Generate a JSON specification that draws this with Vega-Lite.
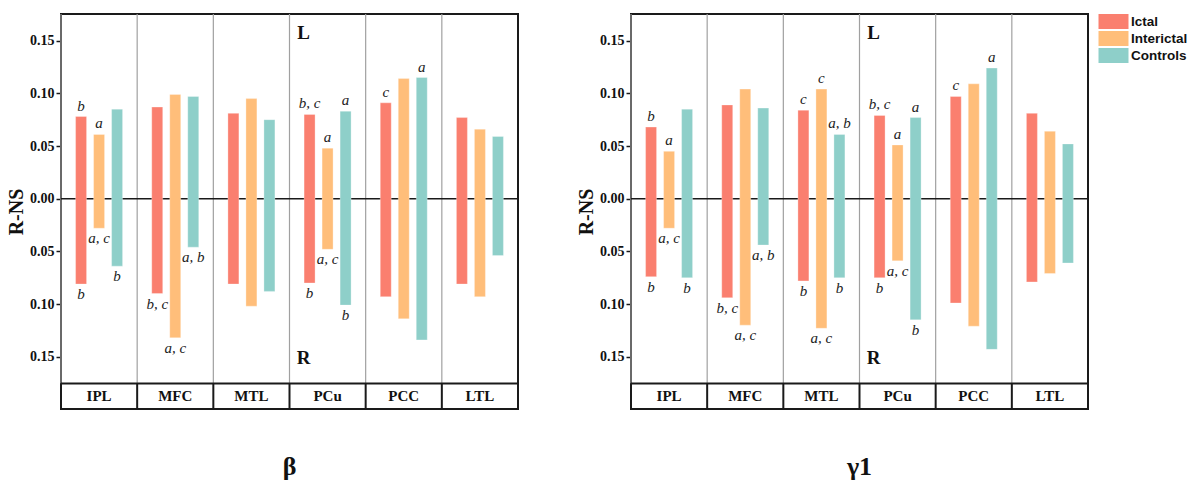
{
  "$schema": "https://vega.github.io/schema/vega-lite/v6.json",
  "padding": {"left": 5, "top": 12, "right": 0, "bottom": 4},
  "background": "white",
  "datasets": {
    "bars": [
      {"panel": "β", "region": "IPL", "group": "Ictal", "top": 0.078, "bottom": -0.081, "lt": "b", "lb": "b"},
      {"panel": "β", "region": "IPL", "group": "Interictal", "top": 0.061, "bottom": -0.028, "lt": "a", "lb": "a, c"},
      {"panel": "β", "region": "IPL", "group": "Controls", "top": 0.085, "bottom": -0.064, "lt": "", "lb": "b"},
      {"panel": "β", "region": "MFC", "group": "Ictal", "top": 0.087, "bottom": -0.090, "lt": "", "lb": "b, c"},
      {"panel": "β", "region": "MFC", "group": "Interictal", "top": 0.099, "bottom": -0.132, "lt": "", "lb": "a, c"},
      {"panel": "β", "region": "MFC", "group": "Controls", "top": 0.097, "bottom": -0.046, "lt": "", "lb": "a, b"},
      {"panel": "β", "region": "MTL", "group": "Ictal", "top": 0.081, "bottom": -0.081, "lt": "", "lb": ""},
      {"panel": "β", "region": "MTL", "group": "Interictal", "top": 0.095, "bottom": -0.102, "lt": "", "lb": ""},
      {"panel": "β", "region": "MTL", "group": "Controls", "top": 0.075, "bottom": -0.088, "lt": "", "lb": ""},
      {"panel": "β", "region": "PCu", "group": "Ictal", "top": 0.080, "bottom": -0.080, "lt": "b, c", "lb": "b"},
      {"panel": "β", "region": "PCu", "group": "Interictal", "top": 0.048, "bottom": -0.048, "lt": "a", "lb": "a, c"},
      {"panel": "β", "region": "PCu", "group": "Controls", "top": 0.083, "bottom": -0.101, "lt": "a", "lb": "b"},
      {"panel": "β", "region": "PCC", "group": "Ictal", "top": 0.091, "bottom": -0.093, "lt": "c", "lb": ""},
      {"panel": "β", "region": "PCC", "group": "Interictal", "top": 0.114, "bottom": -0.114, "lt": "", "lb": ""},
      {"panel": "β", "region": "PCC", "group": "Controls", "top": 0.115, "bottom": -0.134, "lt": "a", "lb": ""},
      {"panel": "β", "region": "LTL", "group": "Ictal", "top": 0.077, "bottom": -0.081, "lt": "", "lb": ""},
      {"panel": "β", "region": "LTL", "group": "Interictal", "top": 0.066, "bottom": -0.093, "lt": "", "lb": ""},
      {"panel": "β", "region": "LTL", "group": "Controls", "top": 0.059, "bottom": -0.054, "lt": "", "lb": ""},
      {"panel": "γ1", "region": "IPL", "group": "Ictal", "top": 0.068, "bottom": -0.074, "lt": "b", "lb": "b"},
      {"panel": "γ1", "region": "IPL", "group": "Interictal", "top": 0.045, "bottom": -0.028, "lt": "a", "lb": "a, c"},
      {"panel": "γ1", "region": "IPL", "group": "Controls", "top": 0.085, "bottom": -0.075, "lt": "", "lb": "b"},
      {"panel": "γ1", "region": "MFC", "group": "Ictal", "top": 0.089, "bottom": -0.094, "lt": "", "lb": "b, c"},
      {"panel": "γ1", "region": "MFC", "group": "Interictal", "top": 0.104, "bottom": -0.120, "lt": "", "lb": "a, c"},
      {"panel": "γ1", "region": "MFC", "group": "Controls", "top": 0.086, "bottom": -0.044, "lt": "", "lb": "a, b"},
      {"panel": "γ1", "region": "MTL", "group": "Ictal", "top": 0.084, "bottom": -0.078, "lt": "c", "lb": "b"},
      {"panel": "γ1", "region": "MTL", "group": "Interictal", "top": 0.104, "bottom": -0.123, "lt": "c", "lb": "a, c"},
      {"panel": "γ1", "region": "MTL", "group": "Controls", "top": 0.061, "bottom": -0.075, "lt": "a, b", "lb": "b"},
      {"panel": "γ1", "region": "PCu", "group": "Ictal", "top": 0.079, "bottom": -0.075, "lt": "b, c", "lb": "b"},
      {"panel": "γ1", "region": "PCu", "group": "Interictal", "top": 0.051, "bottom": -0.059, "lt": "a", "lb": "a, c"},
      {"panel": "γ1", "region": "PCu", "group": "Controls", "top": 0.077, "bottom": -0.115, "lt": "a", "lb": "b"},
      {"panel": "γ1", "region": "PCC", "group": "Ictal", "top": 0.097, "bottom": -0.099, "lt": "c", "lb": ""},
      {"panel": "γ1", "region": "PCC", "group": "Interictal", "top": 0.109, "bottom": -0.121, "lt": "", "lb": ""},
      {"panel": "γ1", "region": "PCC", "group": "Controls", "top": 0.124, "bottom": -0.143, "lt": "a", "lb": ""},
      {"panel": "γ1", "region": "LTL", "group": "Ictal", "top": 0.081, "bottom": -0.079, "lt": "", "lb": ""},
      {"panel": "γ1", "region": "LTL", "group": "Interictal", "top": 0.064, "bottom": -0.071, "lt": "", "lb": ""},
      {"panel": "γ1", "region": "LTL", "group": "Controls", "top": 0.052, "bottom": -0.061, "lt": "", "lb": ""}
    ],
    "regions": [
      {"region": "IPL"}, {"region": "MFC"}, {"region": "MTL"}, {"region": "PCu"}, {"region": "PCC"}, {"region": "LTL"}
    ],
    "one": [{}]
  },
  "hconcat": [
    {
      "width": 457,
      "height": 395,
      "title": {"text": "β", "orient": "bottom", "offset": 44},
      "layer": [
        {
          "data": {"name": "regions"},
          "mark": {"type": "rule", "color": "#a0a0a0", "strokeWidth": 1.2},
          "encoding": {
            "x": {"field": "region", "type": "nominal", "bandPosition": 0, "scale": {"domain": ["IPL", "MFC", "MTL", "PCu", "PCC", "LTL"], "paddingInner": 0, "paddingOuter": 0}, "axis": null},
            "y": {"datum": -0.1753, "type": "quantitative"},
            "y2": {"datum": 0.1753}
          }
        },
        {
          "data": {"name": "regions"},
          "mark": {"type": "rule", "color": "#1a1a1a", "strokeWidth": 2},
          "encoding": {
            "x": {"field": "region", "type": "nominal", "bandPosition": 0, "scale": {"domain": ["IPL", "MFC", "MTL", "PCu", "PCC", "LTL"], "paddingInner": 0, "paddingOuter": 0}, "axis": null},
            "y": {"datum": -0.1996, "type": "quantitative"},
            "y2": {"datum": -0.1753}
          }
        },
        {
          "data": {"name": "one"},
          "mark": {"type": "rule", "color": "#1a1a1a", "strokeWidth": 1.5},
          "encoding": {"y": {"datum": 0, "type": "quantitative"}}
        },
        {
          "data": {"name": "one"},
          "mark": {"type": "rule", "color": "#1a1a1a", "strokeWidth": 2},
          "encoding": {"y": {"datum": -0.1753, "type": "quantitative"}}
        },
        {
          "data": {"name": "bars"},
          "transform": [{"filter": "datum.panel === 'β'"}],
          "mark": {"type": "bar", "stroke": "white", "strokeOpacity": 0.5, "strokeWidth": 0.6},
          "encoding": {
            "x": {"field": "region", "type": "nominal", "scale": {"domain": ["IPL", "MFC", "MTL", "PCu", "PCC", "LTL"], "paddingInner": 0, "paddingOuter": 0}, "axis": null},
            "xOffset": {"field": "group", "type": "nominal", "scale": {"domain": ["Ictal", "Interictal", "Controls"], "paddingInner": 0.39, "paddingOuter": 0.81}},
            "y": {"field": "top", "type": "quantitative", "scale": {"domain": [-0.1996, 0.1753], "nice": false, "zero": false},
              "axis": {"values": [-0.15, -0.1, -0.05, 0, 0.05, 0.1, 0.15], "labelExpr": "format(abs(datum.value), '.2f')", "title": "R-NS", "grid": false}},
            "y2": {"field": "bottom"},
            "color": {"field": "group", "type": "nominal", "scale": {"domain": ["Ictal", "Interictal", "Controls"], "range": ["#FA7F6F", "#FFBE7A", "#8ECFC9"]}, "legend": {"title": null}}
          }
        },
        {
          "data": {"name": "bars"},
          "transform": [{"filter": "datum.panel === 'β'"}],
          "mark": {"type": "text", "baseline": "bottom", "dy": -3, "font": "Liberation Serif", "fontStyle": "italic", "fontSize": 15, "color": "#222"},
          "encoding": {
            "x": {"field": "region", "type": "nominal", "scale": {"domain": ["IPL", "MFC", "MTL", "PCu", "PCC", "LTL"], "paddingInner": 0, "paddingOuter": 0}, "axis": null},
            "xOffset": {"field": "group", "type": "nominal", "scale": {"domain": ["Ictal", "Interictal", "Controls"], "paddingInner": 0.39, "paddingOuter": 0.81}},
            "y": {"field": "top", "type": "quantitative"},
            "text": {"field": "lt"}
          }
        },
        {
          "data": {"name": "bars"},
          "transform": [{"filter": "datum.panel === 'β'"}],
          "mark": {"type": "text", "baseline": "top", "dy": 3, "font": "Liberation Serif", "fontStyle": "italic", "fontSize": 15, "color": "#222"},
          "encoding": {
            "x": {"field": "region", "type": "nominal", "scale": {"domain": ["IPL", "MFC", "MTL", "PCu", "PCC", "LTL"], "paddingInner": 0, "paddingOuter": 0}, "axis": null},
            "xOffset": {"field": "group", "type": "nominal", "scale": {"domain": ["Ictal", "Interictal", "Controls"], "paddingInner": 0.39, "paddingOuter": 0.81}},
            "y": {"field": "bottom", "type": "quantitative"},
            "text": {"field": "lb"}
          }
        },
        {
          "data": {"name": "regions"},
          "mark": {"type": "text", "baseline": "middle", "font": "Liberation Serif", "fontWeight": "bold", "fontSize": 15, "color": "#111"},
          "encoding": {
            "x": {"field": "region", "type": "nominal", "scale": {"domain": ["IPL", "MFC", "MTL", "PCu", "PCC", "LTL"], "paddingInner": 0, "paddingOuter": 0}, "axis": null},
            "y": {"datum": -0.1875, "type": "quantitative"},
            "text": {"field": "region"}
          }
        },
        {
          "data": {"name": "one"},
          "mark": {"type": "text", "text": "L", "baseline": "middle", "dx": 14, "font": "Liberation Serif", "fontWeight": "bold", "fontSize": 19, "color": "#111"},
          "encoding": {
            "x": {"datum": "PCu", "type": "nominal", "bandPosition": 0, "scale": {"domain": ["IPL", "MFC", "MTL", "PCu", "PCC", "LTL"], "paddingInner": 0, "paddingOuter": 0}, "axis": null},
            "y": {"datum": 0.157, "type": "quantitative"}
          }
        },
        {
          "data": {"name": "one"},
          "mark": {"type": "text", "text": "R", "baseline": "middle", "dx": 14, "font": "Liberation Serif", "fontWeight": "bold", "fontSize": 19, "color": "#111"},
          "encoding": {
            "x": {"datum": "PCu", "type": "nominal", "bandPosition": 0, "scale": {"domain": ["IPL", "MFC", "MTL", "PCu", "PCC", "LTL"], "paddingInner": 0, "paddingOuter": 0}, "axis": null},
            "y": {"datum": -0.151, "type": "quantitative"}
          }
        }
      ]
    },
    {
      "width": 457,
      "height": 395,
      "title": {"text": "γ1", "orient": "bottom", "offset": 44},
      "layer": [
        {
          "data": {"name": "regions"},
          "mark": {"type": "rule", "color": "#a0a0a0", "strokeWidth": 1.2},
          "encoding": {
            "x": {"field": "region", "type": "nominal", "bandPosition": 0, "scale": {"domain": ["IPL", "MFC", "MTL", "PCu", "PCC", "LTL"], "paddingInner": 0, "paddingOuter": 0}, "axis": null},
            "y": {"datum": -0.1753, "type": "quantitative"},
            "y2": {"datum": 0.1753}
          }
        },
        {
          "data": {"name": "regions"},
          "mark": {"type": "rule", "color": "#1a1a1a", "strokeWidth": 2},
          "encoding": {
            "x": {"field": "region", "type": "nominal", "bandPosition": 0, "scale": {"domain": ["IPL", "MFC", "MTL", "PCu", "PCC", "LTL"], "paddingInner": 0, "paddingOuter": 0}, "axis": null},
            "y": {"datum": -0.1996, "type": "quantitative"},
            "y2": {"datum": -0.1753}
          }
        },
        {
          "data": {"name": "one"},
          "mark": {"type": "rule", "color": "#1a1a1a", "strokeWidth": 1.5},
          "encoding": {"y": {"datum": 0, "type": "quantitative"}}
        },
        {
          "data": {"name": "one"},
          "mark": {"type": "rule", "color": "#1a1a1a", "strokeWidth": 2},
          "encoding": {"y": {"datum": -0.1753, "type": "quantitative"}}
        },
        {
          "data": {"name": "bars"},
          "transform": [{"filter": "datum.panel === 'γ1'"}],
          "mark": {"type": "bar", "stroke": "white", "strokeOpacity": 0.5, "strokeWidth": 0.6},
          "encoding": {
            "x": {"field": "region", "type": "nominal", "scale": {"domain": ["IPL", "MFC", "MTL", "PCu", "PCC", "LTL"], "paddingInner": 0, "paddingOuter": 0}, "axis": null},
            "xOffset": {"field": "group", "type": "nominal", "scale": {"domain": ["Ictal", "Interictal", "Controls"], "paddingInner": 0.39, "paddingOuter": 0.81}},
            "y": {"field": "top", "type": "quantitative", "scale": {"domain": [-0.1996, 0.1753], "nice": false, "zero": false},
              "axis": {"values": [-0.15, -0.1, -0.05, 0, 0.05, 0.1, 0.15], "labelExpr": "format(abs(datum.value), '.2f')", "title": "R-NS", "grid": false}},
            "y2": {"field": "bottom"},
            "color": {"field": "group", "type": "nominal", "scale": {"domain": ["Ictal", "Interictal", "Controls"], "range": ["#FA7F6F", "#FFBE7A", "#8ECFC9"]}, "legend": {"title": null}}
          }
        },
        {
          "data": {"name": "bars"},
          "transform": [{"filter": "datum.panel === 'γ1'"}],
          "mark": {"type": "text", "baseline": "bottom", "dy": -3, "font": "Liberation Serif", "fontStyle": "italic", "fontSize": 15, "color": "#222"},
          "encoding": {
            "x": {"field": "region", "type": "nominal", "scale": {"domain": ["IPL", "MFC", "MTL", "PCu", "PCC", "LTL"], "paddingInner": 0, "paddingOuter": 0}, "axis": null},
            "xOffset": {"field": "group", "type": "nominal", "scale": {"domain": ["Ictal", "Interictal", "Controls"], "paddingInner": 0.39, "paddingOuter": 0.81}},
            "y": {"field": "top", "type": "quantitative"},
            "text": {"field": "lt"}
          }
        },
        {
          "data": {"name": "bars"},
          "transform": [{"filter": "datum.panel === 'γ1'"}],
          "mark": {"type": "text", "baseline": "top", "dy": 3, "font": "Liberation Serif", "fontStyle": "italic", "fontSize": 15, "color": "#222"},
          "encoding": {
            "x": {"field": "region", "type": "nominal", "scale": {"domain": ["IPL", "MFC", "MTL", "PCu", "PCC", "LTL"], "paddingInner": 0, "paddingOuter": 0}, "axis": null},
            "xOffset": {"field": "group", "type": "nominal", "scale": {"domain": ["Ictal", "Interictal", "Controls"], "paddingInner": 0.39, "paddingOuter": 0.81}},
            "y": {"field": "bottom", "type": "quantitative"},
            "text": {"field": "lb"}
          }
        },
        {
          "data": {"name": "regions"},
          "mark": {"type": "text", "baseline": "middle", "font": "Liberation Serif", "fontWeight": "bold", "fontSize": 15, "color": "#111"},
          "encoding": {
            "x": {"field": "region", "type": "nominal", "scale": {"domain": ["IPL", "MFC", "MTL", "PCu", "PCC", "LTL"], "paddingInner": 0, "paddingOuter": 0}, "axis": null},
            "y": {"datum": -0.1875, "type": "quantitative"},
            "text": {"field": "region"}
          }
        },
        {
          "data": {"name": "one"},
          "mark": {"type": "text", "text": "L", "baseline": "middle", "dx": 14, "font": "Liberation Serif", "fontWeight": "bold", "fontSize": 19, "color": "#111"},
          "encoding": {
            "x": {"datum": "PCu", "type": "nominal", "bandPosition": 0, "scale": {"domain": ["IPL", "MFC", "MTL", "PCu", "PCC", "LTL"], "paddingInner": 0, "paddingOuter": 0}, "axis": null},
            "y": {"datum": 0.157, "type": "quantitative"}
          }
        },
        {
          "data": {"name": "one"},
          "mark": {"type": "text", "text": "R", "baseline": "middle", "dx": 14, "font": "Liberation Serif", "fontWeight": "bold", "fontSize": 19, "color": "#111"},
          "encoding": {
            "x": {"datum": "PCu", "type": "nominal", "bandPosition": 0, "scale": {"domain": ["IPL", "MFC", "MTL", "PCu", "PCC", "LTL"], "paddingInner": 0, "paddingOuter": 0}, "axis": null},
            "y": {"datum": -0.151, "type": "quantitative"}
          }
        }
      ]
    }
  ],
  "spacing": 55,
  "config": {
    "view": {"stroke": "#1a1a1a", "strokeWidth": 2},
    "axis": {
      "labelFont": "Liberation Serif", "labelFontWeight": "bold", "labelFontSize": 14, "labelColor": "#111",
      "titleFont": "Liberation Serif", "titleFontWeight": "bold", "titleFontSize": 20, "titleColor": "#111",
      "tickColor": "#1a1a1a", "tickSize": 5, "tickWidth": 1.5, "domain": false, "labelPadding": 2, "titlePadding": 3
    },
    "title": {"font": "Liberation Serif", "fontWeight": "bold", "fontSize": 26, "color": "#111"},
    "legend": {
      "orient": "right", "offset": 16,
      "labelFont": "Liberation Sans", "labelFontWeight": "bold", "labelFontSize": 13.5, "labelColor": "#111",
      "symbolType": "M-2,-1H2V1H-2Z", "symbolSize": 225, "symbolStrokeWidth": 0, "symbolOpacity": 1,
      "labelOffset": 10, "rowPadding": 2
    }
  }
}
